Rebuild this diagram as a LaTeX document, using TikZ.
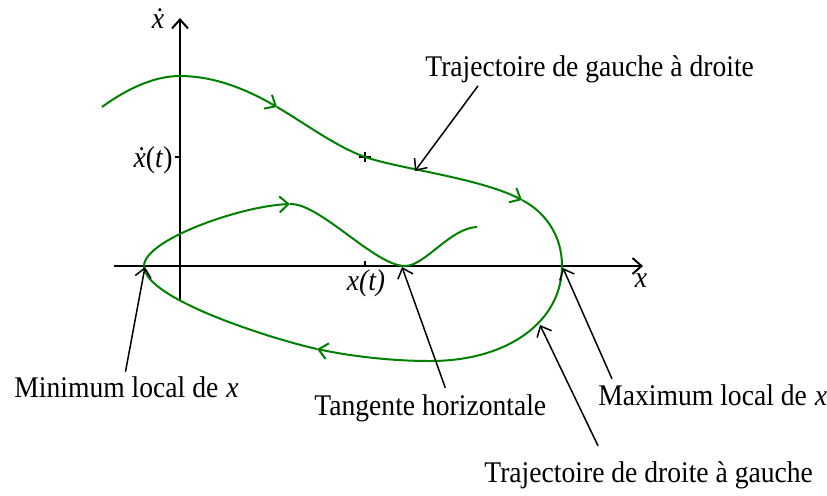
\documentclass[tikz,border=0pt]{standalone}
\usepackage{fontspec}
\setmainfont{Liberation Serif}[FakeStretch=0.92]
\usetikzlibrary{arrows.meta}

\definecolor{trajvert}{RGB}{0,128,0}

\tikzset{
  pointe/.tip={Straight Barb[length=4.5pt,width=8pt]},
  axe/.style={line width=1pt,-pointe},
  traj/.style={draw=trajvert,line width=1pt},
  sens/.style={traj,-pointe},
  renvoi/.style={line width=0.75pt,-pointe},
  etiq/.style={inner sep=0.5pt,anchor=base west,font=\fontsize{15}{18}\selectfont},
}

\begin{document}
\begin{tikzpicture}[x=0.5pt,y=-0.5pt]
    \useasboundingbox (0,0) rectangle (827,495);

    % axes
    \coordinate (xdeb) at (114,266);
    \coordinate (xfin) at (643,266);
    \coordinate (ydeb) at (180,300);
    \coordinate (yfin) at (180,18);
    \draw[axe] (xdeb) -- (xfin);
    \draw[axe] (ydeb) -- (yfin);
    \draw[line width=0.75pt] (365,261) -- (365,266);
    \draw[line width=0.75pt] (175,157) -- (180,157);

    \node[etiq,anchor=base] (lx) at (641,287) {\textit{x}};
    \node[etiq,anchor=base] (ldx) at (158,28) {\textit{ẋ}};
    \node[etiq,anchor=base] (lxt) at (366,290) {\textit{x(t)}};
    \node[etiq,anchor=base east] (ldxt) at (174,167) {\textit{ẋ}(\textit{t})};

    % point (x(t), x'(t))
    \draw[line width=0.75pt] (359,157) -- (371,157) (365,152) -- (365,162);

    % trajectoire
    \draw[sens] (102,107) .. controls (128,88) and (155,76) .. (180,76)
        .. controls (215,76) and (248,90) .. (277,107);
    \draw[sens] (277,107) .. controls (306,124) and (335,146) .. (365,157)
        .. controls (400,169) and (480,178) .. (522,200);
    \draw[sens] (522,200) .. controls (545,212) and (562,235) .. (562,266)
        .. controls (562,320) and (510,361) .. (430,361)
        .. controls (390,361) and (350,356) .. (317,349);
    \draw[sens] (317,349) .. controls (280,341) and (144,300) .. (144,266)
        .. controls (144,240) and (240,206) .. (290,204);
    \draw[traj] (290,204) .. controls (320,203) and (375,266) .. (405,266)
        .. controls (425,266) and (450,228) .. (477,227);

    % points remarquables
    \coordinate (pgd) at (415,171);
    \coordinate (pmin) at (145,267);
    \coordinate (ptan) at (402,267);
    \coordinate (pmax) at (563,268);
    \coordinate (pdg) at (540,325);

    \node[etiq] (ltgd) at (424,76) {Trajectoire de gauche à droite};
    \node[etiq] (lmin) at (13,397) {Minimum local de\hspace{4pt}\textit{x}};
    \node[etiq] (ltan) at (313,415) {Tangente horizontale};
    \node[etiq] (lmax) at (597,405) {Maximum local de\hspace{4pt}\textit{x}};
    \node[etiq] (ltdg) at (483,482) {Trajectoire de droite à gauche};

    \draw[renvoi] (ltgd.south west) ++(54,2) -- (pgd);
    \draw[renvoi] (lmin.north) ++(-1,-3) -- (pmin);
    \draw[renvoi] (ltan.north) ++(15,-5) -- (ptan);
    \draw[renvoi] (lmax.north west) ++(15,-4) -- (pmax);
    \draw[renvoi] (ltdg.north west) ++(115,-14) -- (pdg);
\end{tikzpicture}
\end{document}
